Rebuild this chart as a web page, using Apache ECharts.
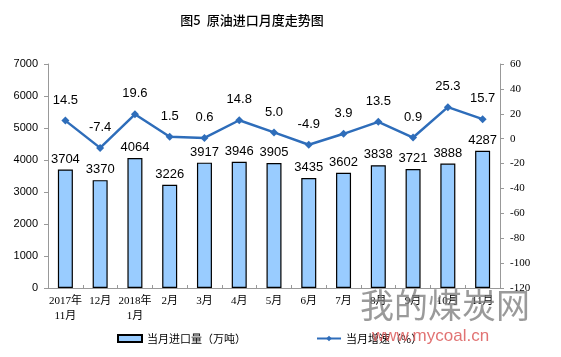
<!DOCTYPE html>
<html><head><meta charset="utf-8">
<script src="https://cdn.jsdelivr.net/npm/echarts@6/dist/echarts.min.js"></script>
<style>html,body{margin:0;padding:0;background:#fff}#c{width:561px;height:357px}</style>
</head><body><div id="c"></div>
<script>
const categories = ['2017年\n11月','12月','2018年\n1月','2月','3月','4月','5月','6月','7月','8月','9月','10月','11月'];
const importVolume = [3704,3370,4064,3226,3917,3946,3905,3435,3602,3838,3721,3888,4287];
const growthRate = [14.5,-7.4,19.6,1.5,0.6,14.8,5.0,-4.9,3.9,13.5,0.9,25.3,15.7];
const leftTicks = {min:0,max:7000,interval:1000};
const rightTicks = {min:-120,max:60,interval:20};

const chart = echarts.init(document.getElementById('c'));
const font = 'Arial, "Liberation Sans", "Noto Sans CJK SC", sans-serif';
chart.setOption({
  animation:false,
  textStyle:{fontFamily:font},
  title:{text:'图5  原油进口月度走势图',left:247,top:9,textAlign:'center',
    textStyle:{fontSize:13,fontWeight:500,color:'#000',fontFamily:'"Noto Sans CJK SC", sans-serif'}},
  grid:{left:48,right:61,top:64,bottom:69},
  legend:{bottom:8,left:112,itemGap:70,itemWidth:24,itemHeight:7,
    textStyle:{fontSize:11,color:'#000',fontFamily:'"Noto Sans CJK SC", sans-serif'},
    data:[{name:'当月进口量（万吨）',icon:'rect'},{name:'当月增速（%）'}]},
  xAxis:{type:'category',data:categories,
    axisLine:{lineStyle:{color:'#999'}},
    axisTick:{show:true,alignWithLabel:false,inside:true,length:3,lineStyle:{color:'#999'}},
    axisLabel:{color:'#000',fontSize:11,interval:0,margin:6,lineHeight:15,fontFamily:'"Liberation Serif", "Noto Sans CJK SC", serif'}},
  yAxis:[
    {type:'value',min:leftTicks.min,max:leftTicks.max,interval:leftTicks.interval,
     axisLine:{show:true,lineStyle:{color:'#999'}},axisTick:{show:true,length:4,lineStyle:{color:'#999'}},
     splitLine:{show:false},axisLabel:{color:'#000',fontSize:11,margin:10,formatter:v=>String(v)}},
    {type:'value',min:rightTicks.min,max:rightTicks.max,interval:rightTicks.interval,
     axisLine:{show:true,lineStyle:{color:'#999'}},axisTick:{show:true,length:4,lineStyle:{color:'#999'}},
     splitLine:{show:false},axisLabel:{color:'#000',fontSize:11,margin:10,fontFamily:'"Liberation Serif", serif',formatter:v=>String(v)}}
  ],
  series:[
    {name:'当月进口量（万吨）',type:'bar',data:importVolume,barWidth:15,
     itemStyle:{color:'#99ccff',borderColor:'#000',borderWidth:1.2},
     label:{show:true,position:'top',distance:4,color:'#000',fontSize:13}},
    {name:'当月增速（%）',type:'line',yAxisIndex:1,data:growthRate,
     symbol:'diamond',symbolSize:8,
     lineStyle:{color:'#2e6dba',width:2.5},itemStyle:{color:'#2e6dba'},
     label:{show:true,position:'top',distance:10,color:'#000',fontSize:13,
       formatter:p=>p.value.toFixed(1)}}
  ],
  graphic:[
    {type:'text',left:360,top:288,silent:true,z:100,
     style:{text:'我的煤炭网',fontSize:34,fill:'rgba(120,120,120,0.75)',fontFamily:'"Noto Sans CJK SC", sans-serif'}},
    {type:'text',left:372,top:328,silent:true,z:100,
     style:{text:'www.mycoal.cn',fontSize:17,fill:'rgba(220,90,90,0.85)',fontFamily:font}}
  ]
});
</script></body></html>
